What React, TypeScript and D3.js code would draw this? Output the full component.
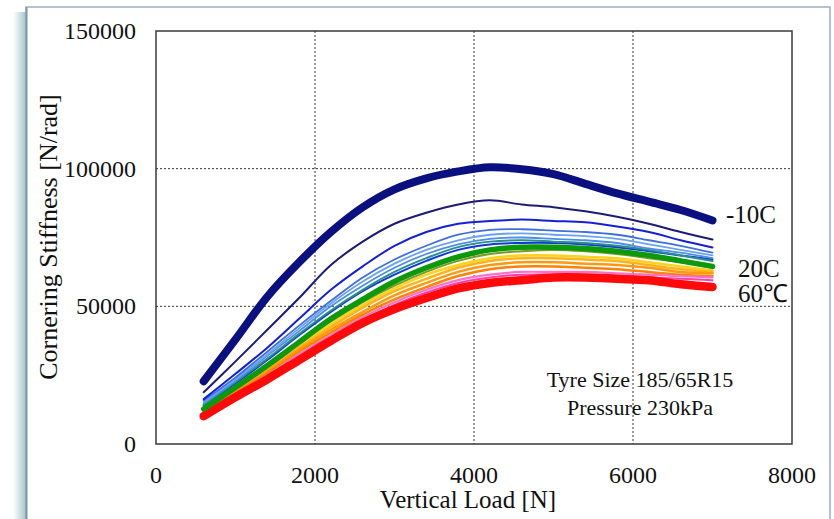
import React from "react";
import * as d3 from "d3";

const loads = [600, 1000, 1400, 1800, 2200, 2600, 3000, 3400, 3800, 4200, 4600, 5000, 5400, 5800, 6200, 6600, 7000];

const sNavyThick = [22800, 38000, 53500, 66000, 77000, 86000, 92500, 96500, 99000, 100500, 99800, 98000, 94500, 91000, 88000, 85000, 81200];
const sNavyThin = [18800, 30000, 41500, 53000, 65000, 73500, 80000, 84000, 87000, 88500, 87000, 86000, 84500, 82500, 80000, 77000, 74300];
const sBlue = [16300, 25500, 35000, 45500, 56000, 64500, 72000, 77000, 80000, 81000, 81500, 81000, 80500, 79000, 77000, 74000, 71400];
const sLb1 = [15800, 24200, 33500, 43000, 52000, 60500, 67000, 72000, 76000, 77800, 78000, 77500, 77000, 76000, 74000, 72000, 69500];
const sLb2 = [15200, 23500, 32500, 42000, 51000, 59000, 65500, 70500, 74000, 76000, 76500, 76000, 75500, 74500, 72500, 70500, 68500];
const sLb3 = [14800, 23000, 32000, 41000, 50000, 57500, 64000, 69000, 72500, 74500, 75000, 74500, 74000, 73000, 71000, 69500, 67500];
const sTeal = [14200, 22500, 31000, 40000, 48500, 56000, 62500, 67500, 71500, 73500, 74000, 73500, 73000, 72000, 70500, 68500, 66500];
const sDkBlue = [14000, 22000, 30500, 39500, 48000, 55500, 61500, 66500, 70500, 72500, 73000, 73000, 72500, 71500, 70000, 68500, 67000];
const sOlive = [12300, 20000, 28000, 36500, 44500, 51500, 57500, 62500, 66500, 69000, 70000, 70500, 70000, 69000, 67500, 66000, 64000];
const sYellow = [12000, 19700, 27500, 35700, 43500, 50500, 56500, 61500, 65000, 67500, 68500, 68500, 68000, 67500, 66000, 64500, 63000];
const sOrangeL = [11800, 19300, 27000, 35000, 42500, 49500, 55500, 60000, 64000, 66500, 67500, 67500, 67000, 66500, 65000, 63500, 62500];
const sOrange = [11500, 19000, 26500, 34300, 41500, 48000, 54000, 58500, 62500, 65000, 66000, 66000, 65500, 65000, 64000, 62500, 62000];
const sOrangeD = [11200, 18500, 25800, 33500, 40500, 47000, 52500, 57000, 61000, 63500, 64500, 64500, 64000, 63500, 62500, 61500, 61000];
const sPink = [11000, 18000, 25000, 32500, 39500, 46000, 51500, 56000, 59500, 61500, 62500, 62500, 62500, 62000, 61500, 61000, 60500];
const sMagenta = [10600, 17500, 24300, 31500, 38500, 45000, 50500, 55000, 58500, 60500, 61500, 61500, 61500, 61000, 60500, 60000, 59500];
const sGreen = [12700, 20500, 28500, 37000, 45500, 52500, 59000, 64000, 68000, 70500, 71500, 71500, 71000, 70000, 68500, 66500, 64500];
const sRed = [10100, 17000, 23500, 30500, 37500, 44000, 49000, 53000, 56500, 58500, 59500, 60500, 60500, 60000, 59500, 58000, 57000];

const seriesList = [
  { values: sYellow, color: "#ffd21a", width: 2.5 },
  { values: sOrangeL, color: "#ffb31a", width: 2.5 },
  { values: sOrange, color: "#ff9a10", width: 2.5 },
  { values: sOrangeD, color: "#ff8200", width: 2.5 },
  { values: sPink, color: "#ff70c8", width: 2.2 },
  { values: sMagenta, color: "#ff3fa8", width: 2 },
  { values: sRed, color: "#ff0a0a", width: 8.5 },
  { values: sOlive, color: "#7a9a20", width: 2 },
  { values: sDkBlue, color: "#1238e0", width: 2 },
  { values: sTeal, color: "#2a8f88", width: 2 },
  { values: sLb3, color: "#4b8ee8", width: 1.8 },
  { values: sLb2, color: "#6aa2f2", width: 1.8 },
  { values: sLb1, color: "#3f6fe0", width: 1.8 },
  { values: sGreen, color: "#0c9a0c", width: 5.5 },
  { values: sBlue, color: "#1420d8", width: 2 },
  { values: sNavyThin, color: "#1c1c78", width: 2 },
  { values: sNavyThick, color: "#0a1080", width: 8 },
];

const xTicks = [0, 2000, 4000, 6000, 8000];
const yTicks = [0, 50000, 100000, 150000];
const tempLabels = ["-10C", "20C", "60\u2103"];
const tempLabelValues = [sNavyThick[16], sGreen[16], sRed[16]];
const noteLines = ["Tyre Size 185/65R15", "Pressure 230kPa"];

export default function App() {
  const left = 156, right = 792, top = 31, bottom = 444;
  const x = d3.scaleLinear().domain([0, 8000]).range([left, right]);
  const y = d3.scaleLinear().domain([0, 150000]).range([bottom, top]);
  const line = d3
    .line<number>()
    .x((_, i) => x(loads[i]))
    .y((d) => y(d))
    .curve(d3.curveCatmullRom.alpha(0.5));
  const font = "'Liberation Serif', 'Times New Roman', serif";

  return (
    <svg width={834} height={519} style={{ position: "absolute", left: 0, top: 0, background: "#fff" }}>
      <defs>
        <linearGradient id="shadow" x1="0" x2="1" y1="0" y2="0">
          <stop offset="0" stopColor="#ffffff" />
          <stop offset="0.5" stopColor="#d3e3e6" />
          <stop offset="1" stopColor="#a5c3c9" />
        </linearGradient>
        <clipPath id="plotclip">
          <rect x={left} y={top} width={right - left} height={bottom - top} />
        </clipPath>
      </defs>
      <rect x={13} y={12} width={13} height={519} fill="url(#shadow)" />
      <rect x={26} y={7} width={804} height={530} fill="#fff" stroke="#9fb0bd" strokeWidth={1.5} />
      <line x1={26.5} x2={26.5} y1={7} y2={519} stroke="#7f96a4" strokeWidth={2} />

      {/* grid */}
      {xTicks.slice(1, -1).map((t) => (
        <line key={"gx" + t} x1={x(t)} x2={x(t)} y1={top} y2={bottom} stroke="#333" strokeWidth={1} strokeDasharray="2,2" />
      ))}
      {yTicks.slice(1, -1).map((t) => (
        <line key={"gy" + t} x1={left} x2={right} y1={y(t)} y2={y(t)} stroke="#333" strokeWidth={1} strokeDasharray="2,2" />
      ))}
      <rect x={left} y={top} width={right - left} height={bottom - top} fill="none" stroke="#3a3a3a" strokeWidth={1.5} />

      {/* tick labels */}
      {yTicks.map((t) => (
        <text key={"yt" + t} x={136} y={y(t) + 8} textAnchor="end" fontFamily={font} fontSize={24} fill="#111">
          {t}
        </text>
      ))}
      {xTicks.map((t) => (
        <text key={"xt" + t} x={x(t)} y={483} textAnchor="middle" fontFamily={font} fontSize={24} fill="#111">
          {t}
        </text>
      ))}
      <text x={468} y={508} textAnchor="middle" fontFamily={font} fontSize={25} fill="#111">
        Vertical Load [N]
      </text>
      <text transform={`translate(57,237) rotate(-90)`} textAnchor="middle" fontFamily={font} fontSize={26} fill="#111">
        Cornering Stiffness [N/rad]
      </text>

      {/* series */}
      <g clipPath="url(#plotclip)">
        {seriesList.map((s, i) => (
          <path
            key={"s" + i}
            d={line(s.values) || ""}
            fill="none"
            stroke={s.color}
            strokeWidth={s.width}
            strokeLinecap="round"
            strokeLinejoin="round"
          />
        ))}
      </g>

      {/* temperature labels */}
      <text x={726} y={y(tempLabelValues[0]) + 3} fontFamily={font} fontSize={25} fill="#111">
        {tempLabels[0]}
      </text>
      <text x={738} y={y(tempLabelValues[1]) + 11} fontFamily={font} fontSize={25} fill="#111">
        {tempLabels[1]}
      </text>
      <text x={738} y={y(tempLabelValues[2]) + 15} fontFamily={font} fontSize={25} fill="#111">
        {tempLabels[2]}
      </text>

      {/* note */}
      {noteLines.map((t, i) => (
        <text key={"n" + i} x={640} y={387 + i * 28} textAnchor="middle" fontFamily={font} fontSize={22} fill="#111">
          {t}
        </text>
      ))}
    </svg>
  );
}
